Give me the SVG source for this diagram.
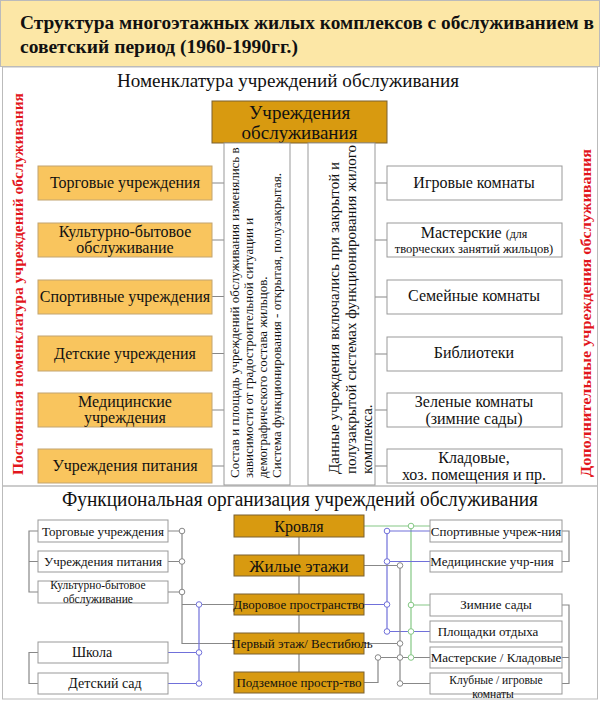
<svg xmlns="http://www.w3.org/2000/svg" width="600" height="706" viewBox="0 0 600 706">
<style>
text{font-family:"Liberation Serif","Times New Roman",serif;fill:#111}
.t{font-weight:bold;font-size:19.5px}
.red{font-weight:bold;font-size:15px;fill:#E2161C}
.hd{font-size:19.5px}
.dg{fill:#D89A10;stroke:#7a6030;stroke-width:1}
.lo{fill:#F9C55E;stroke:#C2A470;stroke-width:1}
.wb{fill:#fff;stroke:#999;stroke-width:1}
.pn{fill:#fff;stroke:#999;stroke-width:1}
.c{font-size:16px;text-anchor:middle}
.s{font-size:13px;text-anchor:middle}
.v{font-size:13px}
.v2{font-size:15px}
.g{stroke:#888;stroke-width:1.2;fill:none}
.b{stroke:#7070DA;stroke-width:1.2;fill:none}
.gr{stroke:#85C885;stroke-width:1.2;fill:none}
.cg{fill:#fff;stroke:#888;stroke-width:1}
.cb{fill:#fff;stroke:#7070DA;stroke-width:1}
.cgr{fill:#fff;stroke:#85C885;stroke-width:1}
</style>
<rect x="0" y="0" width="600" height="706" fill="#fff"/>
<g id="title">
<rect x="0.5" y="0.5" width="599" height="66" fill="#FCE7A6" stroke="#bbb"/>
<text class="t" x="20" y="29" textLength="574" lengthAdjust="spacingAndGlyphs">Структура многоэтажных жилых комплексов с обслуживанием в</text>
<text class="t" x="20" y="53">советский период (1960-1990гг.)</text>
</g>
<g id="frames">
<rect x="2.5" y="67" width="595" height="419" fill="none" stroke="#bbb"/>
<rect x="2.5" y="486" width="595" height="213" fill="none" stroke="#bbb"/>
</g>
<g id="heading-top"><text class="hd" x="288" y="87" text-anchor="middle" textLength="342" lengthAdjust="spacingAndGlyphs">Номенклатура учреждений обслуживания</text></g>
<g id="label-left"><text class="red" transform="translate(23,284) rotate(-90)" text-anchor="middle" textLength="382" lengthAdjust="spacingAndGlyphs">Постоянная номенклатура учреждений обслуживания</text></g>
<g id="label-right"><text class="red" transform="translate(591,313) rotate(-90)" text-anchor="middle" textLength="328" lengthAdjust="spacingAndGlyphs">Дополнительные учреждения обслуживания</text></g>

<g id="connectors">
<path class="g" d="M212,183H224M212,240H224M212,296.5H224M212,353.5H224M212,410H224M212,466H224"/>
<path class="g" d="M375,183H387M375,240H387M375,297H387M375,354H387M375,410H387M375,466H387"/>
<path class="g" d="M299,537V672"/>
<path class="g" d="M38,531H29V592H38M29,561.5H38M38,652.5H29V683.5H38"/>
<path class="g" d="M168,531H182M168,561.5H182M168,592H182M182,531V643.5H234M182,604.5H234"/>
<path class="b" d="M199,604.5V683.5M168,652.5H199M168,683.5H199"/>
<path class="g" d="M562,531H569V561.5H562M562,605H569V683.5H562M562,657.5H569"/>
<path class="gr" d="M364,526H430M411,526V657.5M411,605H430"/>
<path class="b" d="M387,531V631.5M387,531H430M387,561.5H430M387,631.5H430M364,604.5H387"/>
<path class="g" d="M364,565.5H400M400,565.5V683.5M364,643.5H400M378,657.5H430M364,682.5H378V657.5M400,683.5H430"/>
<g>
<circle class="cg" cx="182" cy="531" r="2.8"/><circle class="cg" cx="182" cy="561.5" r="2.8"/><circle class="cg" cx="182" cy="592" r="2.8"/>
<circle class="cb" cx="199" cy="604.5" r="2.8"/><circle class="cb" cx="199" cy="652.5" r="2.8"/><circle class="cb" cx="199" cy="683.5" r="2.8"/>
<circle class="cgr" cx="411" cy="526" r="2.8"/><circle class="cgr" cx="411" cy="605" r="2.8"/><circle class="cgr" cx="411" cy="631.5" r="2.8"/><circle class="cgr" cx="411" cy="657.5" r="2.8"/>
<circle class="cb" cx="387" cy="531" r="2.8"/><circle class="cb" cx="387" cy="561.5" r="2.8"/><circle class="cb" cx="387" cy="604.5" r="2.8"/><circle class="cb" cx="387" cy="631.5" r="2.8"/>
<circle class="cg" cx="400" cy="565.5" r="2.8"/><circle class="cg" cx="400" cy="643.5" r="2.8"/><circle class="cg" cx="400" cy="657.5" r="2.8"/><circle class="cg" cx="400" cy="683.5" r="2.8"/>
<circle class="cg" cx="378" cy="657.5" r="2.8"/>
</g>
</g>

<g id="n-root"><rect class="dg" x="212" y="101" width="175" height="42"/>
<text class="c" x="299.5" y="119" style="font-size:19px">Учреждения</text><text class="c" x="299.5" y="139" style="font-size:19px">обслуживания</text></g>

<g id="panel-left"><rect class="pn" x="224" y="143" width="66" height="342"/>
<g transform="translate(0,478) rotate(-90)">
<text class="v" x="0" y="239">Состав и площадь учреждений обслуживания изменялись в</text>
<text class="v" x="0" y="253">зависимости от градостроительной ситуации и</text>
<text class="v" x="0" y="267">демографического состава жильцов.</text>
<text class="v" x="0" y="281">Система функционирования - открытая, полузакрытая.</text>
</g></g>
<g id="panel-right"><rect class="pn" x="308" y="143" width="67" height="342"/>
<g transform="translate(0,474) rotate(-90)">
<text class="v2" x="0" y="339">Данные учреждения включались при закрытой и</text>
<text class="v2" x="0" y="356">полузакрытой системах функционирования жилого</text>
<text class="v2" x="0" y="372">комплекса.</text>
</g></g>

<g id="n-trade"><rect class="lo" x="38" y="166" width="174" height="34"/><text class="c" x="125" y="188">Торговые учреждения</text></g>
<g id="n-culture"><rect class="lo" x="38" y="223" width="174" height="34"/><text class="c" x="125" y="237">Культурно-бытовое</text><text class="c" x="125" y="253">обслуживание</text></g>
<g id="n-sport"><rect class="lo" x="38" y="280" width="174" height="34"/><text class="c" x="125" y="302">Спортивные учреждения</text></g>
<g id="n-child"><rect class="lo" x="38" y="336" width="174" height="35"/><text class="c" x="125" y="359">Детские учреждения</text></g>
<g id="n-med"><rect class="lo" x="38" y="393" width="174" height="34"/><text class="c" x="125" y="407">Медицинские</text><text class="c" x="125" y="423">учреждения</text></g>
<g id="n-food"><rect class="lo" x="38" y="449" width="174" height="34"/><text class="c" x="125" y="471">Учреждения питания</text></g>

<g id="n-play"><rect class="wb" x="387" y="166" width="175" height="34"/><text class="c" x="474" y="188">Игровые комнаты</text></g>
<g id="n-work"><rect class="wb" x="387" y="223" width="175" height="34"/><text class="c" x="474" y="238"><tspan>Мастерские </tspan><tspan style="font-size:12px">(для</tspan></text><text class="c" x="474" y="253" style="font-size:12.5px">творческих занятий жильцов)</text></g>
<g id="n-family"><rect class="wb" x="387" y="280" width="175" height="34"/><text class="c" x="474" y="301">Семейные комнаты</text></g>
<g id="n-lib"><rect class="wb" x="387" y="337" width="175" height="34"/><text class="c" x="474" y="358">Библиотеки</text></g>
<g id="n-green"><rect class="wb" x="387" y="393" width="175" height="34"/><text class="c" x="474" y="407">Зеленые комнаты</text><text class="c" x="474" y="424">(зимние сады)</text></g>
<g id="n-store"><rect class="wb" x="387" y="449" width="175" height="34"/><text class="c" x="474" y="463">Кладовые,</text><text class="c" x="474" y="480">хоз. помещения и пр.</text></g>

<g id="heading-bottom"><text class="hd" x="300" y="506" text-anchor="middle" style="font-size:20px" textLength="476" lengthAdjust="spacingAndGlyphs">Функциональная организация учреждений обслуживания</text></g>

<g id="f-roof"><rect class="dg" x="234" y="515" width="130" height="22"/><text class="c" x="299" y="532">Кровля</text></g>
<g id="f-floors"><rect class="dg" x="234" y="555" width="130" height="21"/><text class="c" x="299" y="572" style="font-size:17px">Жилые этажи</text></g>
<g id="f-yard"><rect class="dg" x="234" y="594" width="130" height="21"/><text class="s" x="299" y="609">Дворовое пространство</text></g>
<g id="f-first"><rect class="dg" x="234" y="633" width="130" height="21"/><text class="s" x="302" y="648">Первый этаж/ Вестибюль</text></g>
<g id="f-under"><rect class="dg" x="234" y="672" width="130" height="21"/><text class="s" x="299" y="687">Подземное простр-тво</text></g>

<g id="b-trade"><rect class="wb" x="38" y="520" width="130" height="22"/><text class="s" x="103" y="536">Торговые учреждения</text></g>
<g id="b-food"><rect class="wb" x="38" y="551" width="130" height="21"/><text class="s" x="103" y="566">Учреждения питания</text></g>
<g id="b-culture"><rect class="wb" x="38" y="581" width="130" height="22"/><text class="s" x="98" y="589" style="font-size:11.5px">Культурно-бытовое</text><text class="s" x="98" y="602.5" style="font-size:11.5px">обслуживание</text></g>
<g id="b-school"><rect class="wb" x="38" y="642" width="130" height="21"/><text class="s" x="92" y="657" style="font-size:14px">Школа</text></g>
<g id="b-kinder"><rect class="wb" x="38" y="673" width="130" height="21"/><text class="s" x="105" y="688" style="font-size:14px">Детский сад</text></g>

<g id="b-sport"><rect class="wb" x="430" y="520" width="132" height="22"/><text class="s" x="496" y="536">Спортивные учреж-ния</text></g>
<g id="b-med"><rect class="wb" x="430" y="551" width="132" height="21"/><text class="s" x="492" y="566">Медицинские учр-ния</text></g>
<g id="b-winter"><rect class="wb" x="430" y="594" width="132" height="22"/><text class="s" x="496" y="609">Зимние сады</text></g>
<g id="b-rest"><rect class="wb" x="430" y="621" width="132" height="21"/><text class="s" x="488" y="636">Площадки отдыха</text></g>
<g id="b-workshop"><rect class="wb" x="430" y="647" width="132" height="21"/><text class="s" x="496" y="662">Мастерские / Кладовые</text></g>
<g id="b-club"><rect class="wb" x="430" y="673" width="132" height="21"/><text class="s" x="496" y="684" style="font-size:11.5px">Клубные / игровые</text><text class="s" x="493" y="697.5" style="font-size:11.5px">комнаты</text></g>
</svg>
